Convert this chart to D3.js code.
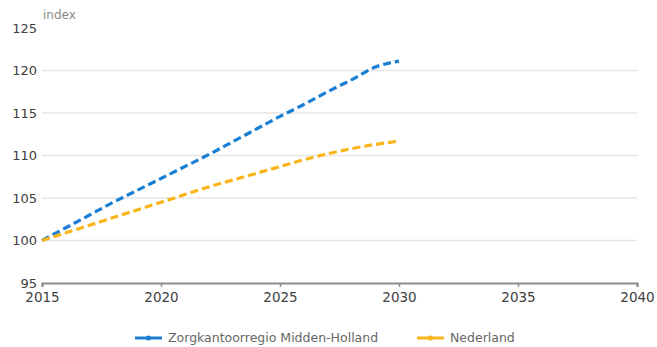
<!DOCTYPE html>
<html><head><meta charset="utf-8">
<script src="https://cdn.jsdelivr.net/npm/d3@7"></script>
<style>body{margin:0;background:#fff}svg{display:block}</style>
</head><body>
<script>
const years = [2015,2016,2017,2018,2019,2020,2021,2022,2023,2024,2025,2026,2027,2028,2029,2030];
const seriesNames = ["Zorgkantoorregio Midden-Holland","Nederland"];
const midden = [100,101.5,103.0,104.5,105.9,107.3,108.7,110.1,111.6,113.1,114.6,116.0,117.5,118.9,120.4,121.1];
const nederland = [100,100.9,101.8,102.7,103.6,104.5,105.4,106.3,107.1,107.9,108.7,109.5,110.2,110.8,111.3,111.7];
const xTicks = [2015,2020,2025,2030,2035,2040];
const yTicks = [95,100,105,110,115,120,125];
const colors = ["#1a7fd3","#fbb41a"];

const W=657,H=347;
const svg=d3.select("body").append("svg").attr("width",W).attr("height",H);
const x=d3.scaleLinear().domain([2015,2040]).range([42,637]);
const y=d3.scaleLinear().domain([95,125]).range([283,28]);
const font="DejaVu Sans, Verdana, sans-serif";

// gridlines
svg.append("g").selectAll("line").data(yTicks.filter(v=>v>95&&v<125)).join("line")
  .attr("x1",x(2015)).attr("x2",x(2040)).attr("y1",d=>y(d)).attr("y2",d=>y(d))
  .attr("stroke","#e6e6e6").attr("stroke-width",1.5);

// y labels
const ya=svg.append("g").attr("transform",`translate(${x(2015)},0)`)
  .call(d3.axisLeft(y).tickValues(yTicks).tickSize(0).tickPadding(5));
ya.select(".domain").remove();
ya.selectAll("text").attr("font-family",font).attr("font-size",13).attr("fill","#404040");

svg.append("text").attr("x",43).attr("y",19).attr("font-family",font).attr("font-size",12)
  .attr("fill","#8a8a8a").text("index");

// x axis
const xa=svg.append("g").attr("transform",`translate(0,${y(95)})`)
  .call(d3.axisBottom(x).tickValues(xTicks).tickFormat(d3.format("d")).tickSize(4).tickSizeOuter(4).tickPadding(5));
xa.select(".domain").attr("stroke","#8c8c8c").attr("stroke-width",2);
xa.selectAll(".tick line").attr("stroke","#8c8c8c").attr("stroke-width",1.5);
xa.selectAll("text").attr("font-family",font).attr("font-size",13.5).attr("fill","#404040");

// lines
const line=d3.line().x((d,i)=>x(years[i])).y(d=>y(d)).curve(d3.curveMonotoneX);
[midden,nederland].forEach((s,k)=>{
  svg.append("path").datum(s).attr("d",line).attr("fill","none")
    .attr("stroke",colors[k]).attr("stroke-width",3.2).attr("stroke-dasharray","8,4");
});

// legend
const ly=338;
const lg=[{x:135,tx:168},{x:417,tx:450}];
seriesNames.forEach((n,k)=>{
  const g=svg.append("g");
  g.append("line").attr("x1",lg[k].x).attr("x2",lg[k].x+27).attr("y1",ly).attr("y2",ly)
    .attr("stroke",colors[k]).attr("stroke-width",3);
  g.append("circle").attr("cx",lg[k].x+13.5).attr("cy",ly).attr("r",2.5).attr("fill",colors[k]);
  g.append("text").attr("x",lg[k].tx).attr("y",ly).attr("dy","0.35em").attr("font-family",font)
    .attr("font-size",12.5).attr("fill","#666").text(n);
});
</script>
</body></html>
